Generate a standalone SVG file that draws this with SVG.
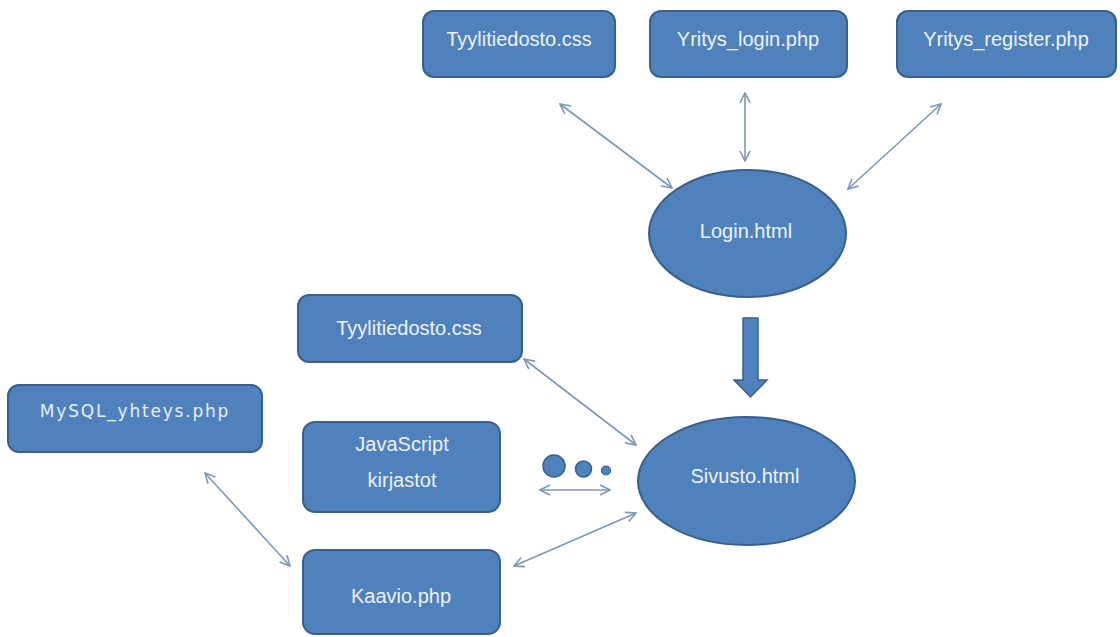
<svg xmlns="http://www.w3.org/2000/svg" width="1120" height="637" viewBox="0 0 1120 637">
<style>
  .box { fill: #4f81bd; stroke: #3a5f8c; stroke-width: 2; }
  .lbl { font-family: "Liberation Sans", Arial, sans-serif; font-size: 20px; fill: #eef3fa; text-anchor: middle; }
  .lbl2 { font-family: "DejaVu Sans", Verdana, sans-serif; font-size: 17px; fill: #e8f0fa; text-anchor: middle; letter-spacing: 1.8px; }
  .conn { stroke: #7d96bb; stroke-width: 1.6; fill: none; marker-start: url(#ah); marker-end: url(#ah); }
</style>
<defs>
  <marker id="ah" viewBox="0 0 12 12" markerWidth="12" markerHeight="12" refX="11" refY="6" orient="auto-start-reverse" markerUnits="userSpaceOnUse">
    <path d="M1,1 L11,6 L1,11" fill="none" stroke="#7d96bb" stroke-width="1.6"/>
  </marker>
</defs>
<rect width="1120" height="637" fill="#ffffff"/>

<g id="connectors">
  <line class="conn" x1="560" y1="104" x2="672" y2="188"/>
  <line class="conn" x1="745" y1="93" x2="745" y2="161"/>
  <line class="conn" x1="941" y1="104" x2="848" y2="189"/>
  <line class="conn" x1="524" y1="359" x2="636" y2="445"/>
  <line class="conn" x1="540" y1="490" x2="610" y2="490"/>
  <line class="conn" x1="205" y1="473" x2="290" y2="566"/>
  <line class="conn" x1="514" y1="566" x2="636" y2="513"/>
  <path id="bigarrow" d="M743,318 L758,318 L758,380 L767,380 L750.5,397 L734,380 L743,380 Z" fill="#4f81bd" stroke="#3a5f8c" stroke-width="1.5"/>
</g>

<g id="dots">
  <circle cx="554" cy="466" r="11" fill="#4f81bd" stroke="#3a5f8c" stroke-width="1.5"/>
  <circle cx="583.5" cy="469" r="8" fill="#4f81bd" stroke="#3a5f8c" stroke-width="1.5"/>
  <circle cx="606" cy="470.5" r="4.5" fill="#4f81bd" stroke="#3a5f8c" stroke-width="1.2"/>
</g>

<g id="tyyli1">
  <rect class="box" x="423" y="11" width="192" height="66" rx="11"/>
  <text class="lbl" x="519" y="46">Tyylitiedosto.css</text>
</g>
<g id="yritys_login">
  <rect class="box" x="650" y="11" width="197" height="66" rx="11"/>
  <text class="lbl" x="748" y="46">Yritys_login.php</text>
</g>
<g id="yritys_register">
  <rect class="box" x="897" y="11" width="219" height="66" rx="11"/>
  <text class="lbl" x="1006" y="46">Yritys_register.php</text>
</g>
<g id="login">
  <ellipse class="box" cx="747.5" cy="233.5" rx="98.5" ry="63.5"/>
  <text class="lbl" x="746" y="238">Login.html</text>
</g>
<g id="tyyli2">
  <rect class="box" x="298" y="295" width="224" height="67" rx="11"/>
  <text class="lbl" x="409" y="335">Tyylitiedosto.css</text>
</g>
<g id="mysql">
  <rect class="box" x="8" y="385" width="254" height="67" rx="11"/>
  <text class="lbl2" x="135" y="417">MySQL_yhteys.php</text>
</g>
<g id="javascript">
  <rect class="box" x="303" y="422" width="197" height="90" rx="12"/>
  <text class="lbl" x="402" y="451">JavaScript</text>
  <text class="lbl" x="402" y="487">kirjastot</text>
</g>
<g id="kaavio">
  <rect class="box" x="303" y="550" width="197" height="84" rx="12"/>
  <text class="lbl" x="401" y="603">Kaavio.php</text>
</g>
<g id="sivusto">
  <ellipse class="box" cx="746.5" cy="481" rx="108.5" ry="64"/>
  <text class="lbl" x="745" y="483">Sivusto.html</text>
</g>
</svg>
